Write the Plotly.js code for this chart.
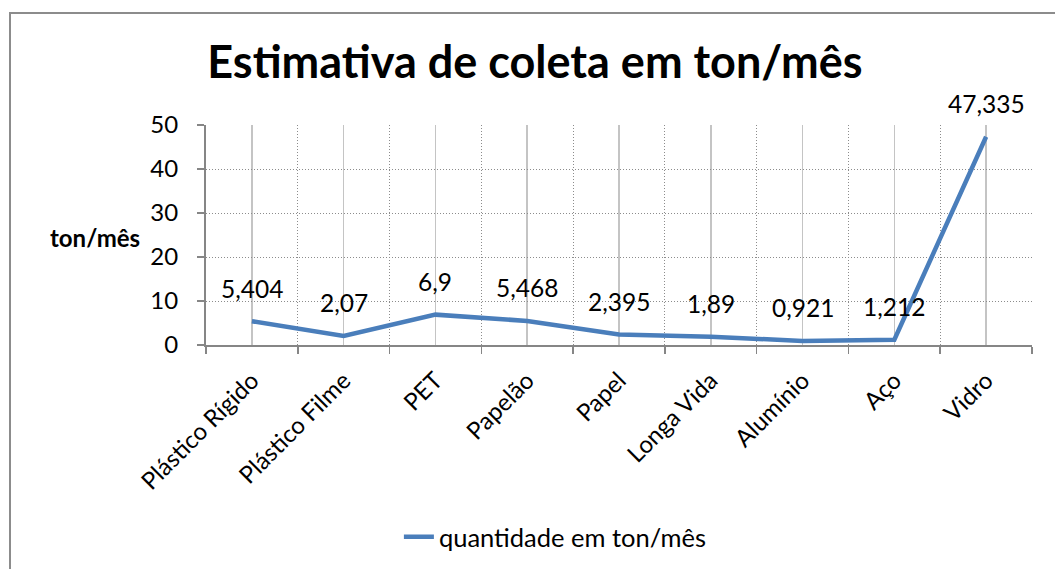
<!DOCTYPE html>
<html>
<head>
<meta charset="utf-8">
<script src="https://cdn.plot.ly/plotly-3.0.1.min.js"></script>
<style>
  html, body { margin: 0; padding: 0; background: #fff; }
  #chart { width: 1055px; height: 569px; }
  #frame { position: absolute; left: 9px; top: 12px; width: 1200px; height: 700px;
           border-left: 2px solid #8c8c8c; border-top: 2px solid #8c8c8c; pointer-events: none; }
</style>
</head>
<body>
<div id="chart"></div>
<div id="frame"></div>
<script>
const categories = ["Plástico Rígido", "Plástico Filme", "PET", "Papelão", "Papel", "Longa Vida", "Alumínio", "Aço", "Vidro"];
const quantities = [5.404, 2.07, 6.9, 5.468, 2.395, 1.89, 0.921, 1.212, 47.335];
const valueLabels = ["5,404", "2,07", "6,9", "5,468", "2,395", "1,89", "0,921", "1,212", "47,335"];

const font = "Lato, 'Open Sans', sans-serif";
const idx = categories.map((_, i) => i);
const bounds = [...idx.map(i => i - 0.5), categories.length - 0.5];

const trace = {
  x: idx, y: quantities, type: "scatter", mode: "lines",
  name: "quantidade em ton/mês",
  line: { color: "#4a7ebb", width: 4.5 }
};

const labels = idx.map(i => ({
  x: i, y: quantities[i], text: valueLabels[i], showarrow: false,
  yshift: 33, font: { family: font, size: 24.5, color: "#000" }
}));

const layout = {
  width: 1055, height: 569,
  margin: { l: 206, r: 23, t: 125, b: 224 },
  paper_bgcolor: "#fff", plot_bgcolor: "#fff",
  font: { family: font, color: "#000", size: 23 },
  title: { text: "<b>Estimativa de coleta em ton/mês</b>", font: { family: font, size: 45, color: "#000" },
           x: 0.507, xanchor: "center", y: 0.89, yanchor: "middle", yref: "container" },
  showlegend: true,
  legend: { orientation: "h", x: 0.423, xanchor: "center", y: 0.056, yanchor: "middle", yref: "container",
            font: { family: font, size: 25.5 } },
  xaxis: {
    range: [-0.5, categories.length - 0.5],
    tickmode: "array", tickvals: idx, ticktext: categories, tickangle: -45,
    ticks: "", ticklabelstandoff: 10,
    showgrid: true, gridcolor: "#c4c4c4", gridwidth: 1.5,
    showline: true, linecolor: "#868686", linewidth: 2, zeroline: false,
    minor: { tickmode: "array", tickvals: bounds, ticks: "outside", ticklen: 7, tickwidth: 1.5, tickcolor: "#868686",
             showgrid: true, gridcolor: "#8c8c8c", gridwidth: 1, griddash: "1px,2px" },
    tickfont: { family: font, size: 24 }
  },
  yaxis: {
    range: [0, 50], dtick: 10, ticks: "outside", ticklen: 7, tickwidth: 1.5, tickcolor: "#868686",
    ticklabelstandoff: 14,
    showgrid: true, gridcolor: "#8c8c8c", gridwidth: 1, griddash: "1px,2px",
    showline: true, linecolor: "#868686", linewidth: 2, zeroline: false,
    tickfont: { family: font, size: 24 }
  },
  annotations: [
    ...labels,
    { text: "<b>ton/mês</b>", xref: "paper", yref: "paper", x: -0.078, y: 0.49, xanchor: "right", yanchor: "middle",
      showarrow: false, font: { family: font, size: 24, color: "#000" } }
  ]
};

Plotly.newPlot("chart", [trace], layout, { displayModeBar: false, staticPlot: true });
</script>
</body>
</html>
